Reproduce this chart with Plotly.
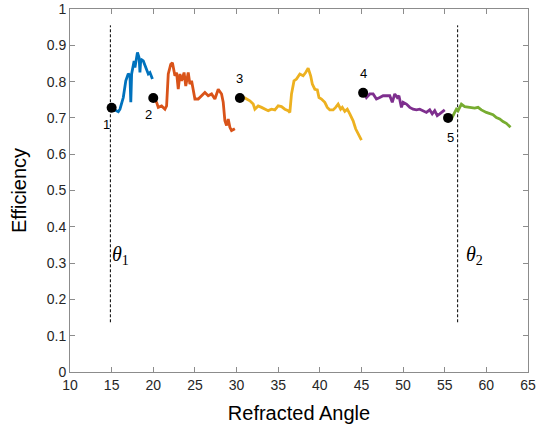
import plotly.graph_objects as go

# ---- data ----
blue_x = [15.0, 15.2, 15.8, 16.0, 16.4, 16.7, 17.0, 17.2, 17.3, 17.4, 17.7, 17.8, 18.1, 18.3, 18.4, 18.5, 18.8, 19.1, 19.4, 19.6, 19.9]
blue_y = [0.728, 0.724, 0.717, 0.724, 0.756, 0.802, 0.822, 0.816, 0.743, 0.821, 0.857, 0.839, 0.880, 0.866, 0.825, 0.862, 0.857, 0.839, 0.821, 0.825, 0.807]

orange_x = [20.0, 20.4, 20.6, 21.0, 21.4, 21.6, 21.8, 22.1, 22.3, 22.6, 22.8, 23.0, 23.2, 23.4, 23.7, 23.9, 24.2, 24.4, 24.6, 24.8, 25.0, 25.4, 25.8, 26.2, 26.6, 27.0, 27.4, 27.8, 28.2, 28.4, 28.6, 28.8, 29.0, 29.2, 29.4, 29.8]
orange_y = [0.755, 0.743, 0.729, 0.733, 0.724, 0.733, 0.821, 0.848, 0.852, 0.816, 0.825, 0.779, 0.821, 0.802, 0.825, 0.788, 0.825, 0.793, 0.802, 0.775, 0.752, 0.752, 0.761, 0.770, 0.761, 0.766, 0.752, 0.779, 0.766, 0.743, 0.692, 0.679, 0.697, 0.674, 0.665, 0.670]

yellow_x = [30.4, 31.0, 31.6, 32.0, 32.2, 32.6, 33.0, 33.4, 33.8, 34.2, 34.6, 35.0, 35.4, 35.8, 36.2, 36.4, 36.6, 36.9, 37.2, 37.6, 38.0, 38.3, 38.6, 38.9, 39.1, 39.4, 39.7, 39.9, 40.2, 40.6, 40.9, 41.2, 41.6, 41.9, 42.2, 42.5, 42.7, 43.0, 43.3, 43.6, 44.0, 44.3, 44.7, 45.0]
yellow_y = [0.755, 0.755, 0.747, 0.738, 0.724, 0.733, 0.729, 0.724, 0.720, 0.724, 0.722, 0.733, 0.731, 0.724, 0.720, 0.715, 0.766, 0.802, 0.807, 0.821, 0.816, 0.825, 0.837, 0.816, 0.793, 0.779, 0.777, 0.756, 0.752, 0.743, 0.729, 0.722, 0.722, 0.729, 0.738, 0.724, 0.729, 0.718, 0.724, 0.711, 0.692, 0.670, 0.651, 0.639]

purple_x = [45.2, 45.4, 45.6, 46.0, 46.4, 46.8, 47.2, 47.6, 48.0, 48.4, 48.7, 49.0, 49.3, 49.5, 49.8, 50.0, 50.4, 50.8, 51.2, 51.6, 52.0, 52.4, 52.8, 53.2, 53.5, 53.8, 54.1, 54.4, 54.8, 55.0]
purple_y = [0.769, 0.766, 0.756, 0.766, 0.766, 0.752, 0.756, 0.761, 0.761, 0.761, 0.743, 0.766, 0.756, 0.761, 0.729, 0.743, 0.738, 0.729, 0.724, 0.722, 0.724, 0.720, 0.715, 0.722, 0.711, 0.720, 0.706, 0.711, 0.720, 0.722]

green_x = [55.4, 55.8, 56.2, 56.4, 56.6, 57.0, 57.4, 58.0, 58.6, 59.0, 59.4, 60.0, 60.4, 60.8, 61.2, 61.6, 62.0, 62.4, 62.9]
green_y = [0.700, 0.697, 0.715, 0.724, 0.720, 0.738, 0.731, 0.729, 0.727, 0.729, 0.722, 0.715, 0.711, 0.709, 0.701, 0.697, 0.690, 0.685, 0.674]

point_x = [15.0, 20.0, 30.4, 45.2, 55.4]
point_y = [0.728, 0.755, 0.755, 0.769, 0.700]
point_labels = ["1", "2", "3", "4", "5"]
label_pos = ["bottom left", "bottom left", "top center", "top center", "bottom center"]

theta_x = [14.85, 56.55]
theta_y_range = [0.137, 0.955]
theta_names = ["θ", "θ"]
theta_subs = ["1", "2"]
theta_label_x = [16.1, 58.6]
theta_label_y = 0.32

x_ticks = list(range(10, 66, 5))
y_ticks = [0, 0.1, 0.2, 0.3, 0.4, 0.5, 0.6, 0.7, 0.8, 0.9, 1]
y_ticktext = ["0", "0.1", "0.2", "0.3", "0.4", "0.5", "0.6", "0.7", "0.8", "0.9", "1"]

colors = ["#0072BD", "#D95319", "#EDB120", "#7E2F8E", "#77AC30"]
series = [(blue_x, blue_y), (orange_x, orange_y), (yellow_x, yellow_y),
          (purple_x, purple_y), (green_x, green_y)]

fig = go.Figure()

for tx in theta_x:
    fig.add_trace(go.Scatter(x=[tx, tx], y=theta_y_range, mode="lines",
                             line=dict(color="black", width=1, dash="3px,2px"),
                             showlegend=False, hoverinfo="skip"))

for (sx, sy), c in zip(series, colors):
    fig.add_trace(go.Scatter(x=sx, y=sy, mode="lines",
                             line=dict(color=c, width=2.8),
                             showlegend=False))

fig.add_trace(go.Scatter(x=point_x, y=point_y, mode="markers",
                         marker=dict(color="black", size=10),
                         showlegend=False))

# point number labels
offsets = {"bottom left": (-5, 17), "top center": (0, -19), "bottom center": (2, 20)}
for px, py, t, pos in zip(point_x, point_y, point_labels, label_pos):
    dx, dy = offsets[pos]
    fig.add_annotation(x=px, y=py, text=t, showarrow=False, xshift=dx, yshift=-dy,
                       font=dict(family="Liberation Sans, Arial", size=13, color="black"))

for lx, nm, sb in zip(theta_label_x, theta_names, theta_subs):
    fig.add_annotation(x=lx, y=theta_label_y, text="<i>" + nm + "</i><sub>" + sb + "</sub>",
                       showarrow=False,
                       font=dict(family="Liberation Serif, DejaVu Serif", size=20, color="black"))

axis_common = dict(showline=True, linecolor="#8c8c8c", linewidth=1, mirror="ticks",
                   ticks="inside", ticklen=5, tickcolor="#8c8c8c", showgrid=False,
                   zeroline=False, automargin=False, ticklabeloverflow="allow",
                   tickfont=dict(family="Liberation Sans, Arial", size=14, color="#262626"))

fig.update_xaxes(range=[10, 65], tickvals=x_ticks, ticktext=[str(v) for v in x_ticks],
                 title=dict(text="Refracted Angle", standoff=14,
                            font=dict(family="Liberation Sans, Arial", size=20, color="black")),
                 **axis_common)
fig.update_yaxes(range=[0, 1], tickvals=y_ticks, ticktext=y_ticktext,
                 title=dict(text="Efficiency", standoff=14,
                            font=dict(family="Liberation Sans, Arial", size=20, color="black")),
                 **axis_common)

fig.update_layout(width=537, height=432, margin=dict(l=70, r=9, t=9, b=60, autoexpand=False),
                  plot_bgcolor="white", paper_bgcolor="white")

fig.write_html("out.html", config={"displayModeBar": False},
               post_script="document.body.style.margin='0';document.body.style.overflow='hidden';")
